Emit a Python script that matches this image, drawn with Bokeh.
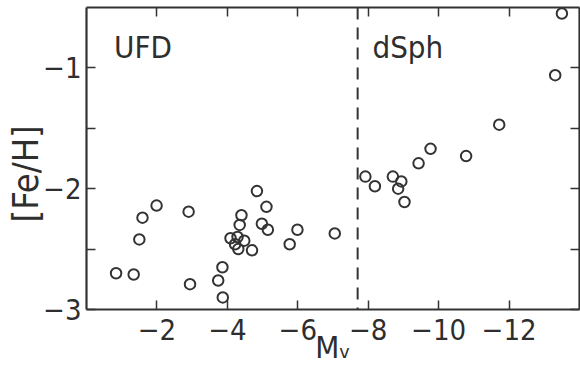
import math
from bokeh.plotting import figure
from bokeh.models import Range1d, FixedTicker, LinearAxis, Label, Span
from bokeh.embed import file_html
from bokeh.resources import INLINE

# --- data ---
mv_ufd = [-0.84, -1.34, -1.50, -1.59, -1.99, -2.90, -2.94, -3.86, -3.74, -3.87,
          -4.40, -4.35, -4.09, -4.29, -4.48, -4.22, -4.31, -4.70, -4.84, -5.11,
          -4.98, -5.15, -5.99, -5.77, -7.05]
feh_ufd = [-2.70, -2.71, -2.42, -2.24, -2.14, -2.19, -2.79, -2.65, -2.76, -2.90,
           -2.22, -2.30, -2.41, -2.40, -2.43, -2.46, -2.50, -2.51, -2.02, -2.15,
           -2.29, -2.34, -2.34, -2.46, -2.37]
mv_dsph = [-7.92, -8.19, -8.70, -8.94, -8.85, -9.03, -9.43, -9.77, -10.78, -11.72,
           -13.31, -13.50]
feh_dsph = [-1.90, -1.98, -1.90, -1.94, -2.00, -2.11, -1.79, -1.67, -1.73, -1.47,
            -1.06, -0.55]
boundary_mv = -7.7

x_ticks = [-2, -4, -6, -8, -10, -12]
x_tick_labels = ["\u22122", "\u22124", "\u22126", "\u22128", "\u221210", "\u221212"]
y_ticks = [-3, -2.5, -2, -1.5, -1]
y_tick_labels = ["\u22123", "", "\u22122", "", "\u22121"]

FONT = "Liberation Sans Narrow, DejaVu Sans Condensed, Liberation Sans"
INK = "#333333"
TXT = "#2e2e2e"

p = figure(width=580, height=372, output_backend="svg", toolbar_location=None,
           x_range=Range1d(0, -14), y_range=Range1d(-3, -0.5),
           x_axis_location=None, y_axis_location=None,
           min_border_left=86, min_border_right=1, min_border_top=7,
           min_border_bottom=63)
p.outline_line_color = None
p.xgrid.visible = False
p.ygrid.visible = False
p.background_fill_color = "white"
p.border_fill_color = "white"


def style_axis(ax, ticks, labels, show):
    ax.ticker = FixedTicker(ticks=ticks)
    ax.major_label_overrides = {t: (l if show else "") for t, l in zip(ticks, labels)}
    ax.axis_line_width = 2.2
    ax.axis_line_color = INK
    ax.major_tick_line_color = INK
    ax.major_tick_line_width = 1.5
    ax.major_tick_in = 9
    ax.major_tick_out = 0
    ax.minor_tick_line_color = None
    ax.major_label_text_font = FONT
    ax.major_label_text_font_size = "29px" if show else "1px"
    ax.major_label_text_color = TXT
    ax.major_label_standoff = 5 if show else 0


bottom = LinearAxis()
style_axis(bottom, x_ticks, x_tick_labels, True)
bottom.major_label_standoff = 9
bottom.axis_label = "M\u1d65"
bottom.axis_label_text_font = FONT
bottom.axis_label_text_font_size = "31px"
bottom.axis_label_text_font_style = "normal"
bottom.axis_label_text_color = TXT
bottom.axis_label_text_line_height = 0.7
bottom.axis_label_standoff = -14
p.add_layout(bottom, "below")

top = LinearAxis()
style_axis(top, x_ticks, x_tick_labels, False)
p.add_layout(top, "above")

left = LinearAxis()
style_axis(left, y_ticks, y_tick_labels, True)
left.axis_label = "[Fe/H]\u00a0\u00a0\u00a0"
left.axis_label_text_font = FONT
left.axis_label_text_font_size = "36px"
left.axis_label_text_font_style = "normal"
left.axis_label_text_color = TXT
left.axis_label_standoff = -6
p.add_layout(left, "left")

right = LinearAxis()
style_axis(right, y_ticks, y_tick_labels, False)
p.add_layout(right, "right")

# boundary between UFDs and dSphs
p.add_layout(Span(location=boundary_mv, dimension="height", line_color=INK,
                  line_width=2, line_dash="12 8"))

p.scatter(mv_ufd, feh_ufd, marker="circle", size=10.5, fill_color=None,
          line_color=INK, line_width=2)
p.scatter(mv_dsph, feh_dsph, marker="circle", size=10.5, fill_color=None,
          line_color=INK, line_width=2)

p.add_layout(Label(x=-0.78, y=-0.83, text="UFD", text_font=FONT,
                   text_font_size="31px", text_color=TXT,
                   text_align="left", text_baseline="alphabetic"))
p.add_layout(Label(x=-8.12, y=-0.83, text="dSph", text_font=FONT,
                   text_font_size="31px", text_color=TXT,
                   text_align="left", text_baseline="alphabetic"))

open("out.html", "w").write(file_html(p, INLINE))
